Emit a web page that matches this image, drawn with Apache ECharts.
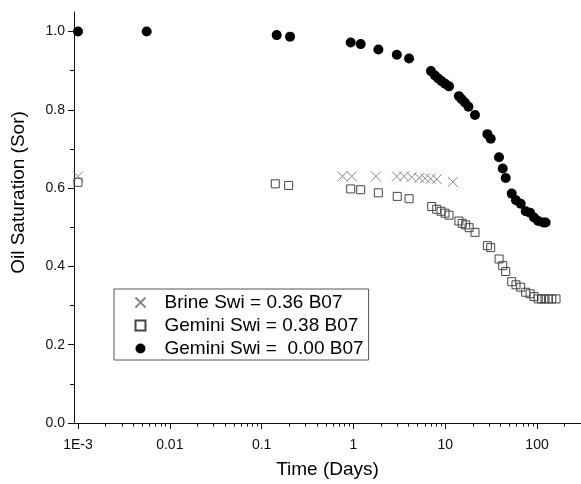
<!DOCTYPE html>
<html><head><meta charset="utf-8">
<script src="https://cdn.jsdelivr.net/npm/echarts@6/dist/echarts.min.js"></script>
<style>html,body{margin:0;padding:0;background:#fff}#c{width:581px;height:484px}</style>
</head><body><div id="c"></div>
<script>
// ---- data ----
const brineTime = [0.001, 0.76, 0.96, 1.76, 2.97, 3.56, 4.31, 5.22, 6.02, 6.95, 8.08, 12.1];
const brineSor  = [0.630, 0.630, 0.630, 0.630, 0.630, 0.630, 0.628, 0.626, 0.625, 0.624, 0.623, 0.616];

const gem38Time = [0.001, 0.141, 0.197, 0.935, 1.2, 1.87, 3.0, 4.04, 7.13, 8.08, 9.0, 9.95, 11.0,
  14.1, 15.3, 16.7, 18.2, 21.1, 28.8, 31.3, 38.6, 42.3, 45.6, 53, 59, 66.4, 75.3, 84, 92.7,
  103, 112, 122, 133, 145, 161];
const gem38Sor  = [0.615, 0.611, 0.607, 0.598, 0.596, 0.588, 0.579, 0.573, 0.553, 0.546, 0.541, 0.536, 0.531,
  0.516, 0.510, 0.506, 0.499, 0.487, 0.453, 0.448, 0.419, 0.402, 0.387, 0.361, 0.353, 0.347, 0.334, 0.330, 0.323,
  0.317, 0.317, 0.317, 0.317, 0.317, 0.317];

const gem00Time = [0.001, 0.0056, 0.146, 0.204, 0.934, 1.2, 1.87, 2.97, 4.04, 7.0, 7.74, 8.41, 9.16, 9.96, 11.0,
  14.1, 15.1, 16.4, 17.9, 21.1, 28.8, 31.3, 38.5, 42.3, 45.6, 53, 59, 66.4, 75.3, 84, 92.7, 103, 117, 124];
const gem00Sor  = [1.0, 1.0, 0.991, 0.987, 0.972, 0.968, 0.954, 0.941, 0.931, 0.899, 0.888, 0.880, 0.873, 0.867, 0.860,
  0.835, 0.827, 0.819, 0.808, 0.787, 0.738, 0.726, 0.679, 0.650, 0.626, 0.586, 0.569, 0.560, 0.541, 0.537, 0.525, 0.516, 0.512, 0.512];

const seriesNames = ['Brine Swi = 0.36 B07', 'Gemini Swi = 0.38 B07', 'Gemini Swi =  0.00 B07'];
const xMajorTicks = [0.001, 0.01, 0.1, 1, 10, 100];
const xMinorTicks = [];
[0.001, 0.01, 0.1, 1, 10, 100].forEach(d => { for (let k = 2; k <= 9; k++) { const v = +(d * k).toPrecision(3); if (v <= 300) xMinorTicks.push(v); } });
const yMajorTicks = [0, 0.2, 0.4, 0.6, 0.8, 1.0];
const yMinorTicks = [0.1, 0.3, 0.5, 0.7, 0.9];
const xTitle = 'Time (Days)';
const yTitle = 'Oil Saturation (Sor)';

const FONT = 'Liberation Sans, Arial, sans-serif';
const XMIN = Math.pow(10, -3.0436), XMAX = Math.pow(10, 2.479);
const pair = (xs, ys) => xs.map((x, i) => [x, ys[i]]);
const xLabel = v => { if (Math.abs(v - 0.001) < 1e-9) return '1E-3'; return String(+v.toPrecision(3)); };

const chart = echarts.init(document.getElementById('c'), null, { renderer: 'canvas' });
chart.setOption({
  backgroundColor: '#fff',
  animation: false,
  grid: { left: 74, right: 0, top: 12, bottom: 59, containLabel: false },
  xAxis: [
    { type: 'log', logBase: 10, min: XMIN, max: XMAX, position: 'bottom',
      name: xTitle, nameLocation: 'middle', nameGap: 37,
      nameTextStyle: { fontFamily: FONT, fontSize: 19, color: '#000' },
      axisLine: { show: true, lineStyle: { color: '#111', width: 1 } },
      axisTick: { show: true, length: 6, customValues: xMajorTicks, lineStyle: { color: '#111' } },
      axisLabel: { show: true, customValues: xMajorTicks, formatter: xLabel, margin: 15,
        fontFamily: FONT, fontSize: 14, color: '#111' },
      splitLine: { show: false } },
    { type: 'log', logBase: 10, min: XMIN, max: XMAX, position: 'bottom',
      axisLine: { show: false },
      axisTick: { show: true, length: 3.5, customValues: xMinorTicks, lineStyle: { color: '#111' } },
      axisLabel: { show: false }, splitLine: { show: false } }
  ],
  yAxis: [
    { type: 'value', min: 0, max: 1.05, position: 'left',
      name: yTitle, nameLocation: 'middle', nameGap: 46, nameRotate: 90,
      nameTextStyle: { fontFamily: FONT, fontSize: 19, color: '#000', padding: [0, 0, 0, 50] },
      axisLine: { show: true, lineStyle: { color: '#111', width: 1 } },
      axisTick: { show: true, length: 6, customValues: yMajorTicks, lineStyle: { color: '#111' } },
      axisLabel: { show: true, customValues: yMajorTicks, formatter: v => v.toFixed(1), margin: 9,
        fontFamily: FONT, fontSize: 14, color: '#111' },
      splitLine: { show: false } },
    { type: 'value', min: 0, max: 1.05, position: 'left',
      axisLine: { show: false },
      axisTick: { show: true, length: 4, customValues: yMinorTicks, lineStyle: { color: '#111' } },
      axisLabel: { show: false }, splitLine: { show: false } }
  ],
  legend: {
    orient: 'vertical', left: 114, top: 289,
    padding: [4, 5, 2, 19], itemGap: 4, itemWidth: 10, itemHeight: 10,
    borderColor: '#555', borderWidth: 1, backgroundColor: '#fff',
    textStyle: { fontFamily: FONT, fontSize: 19, lineHeight: 19, color: '#000', padding: [0, 0, 0, 14] },
    data: seriesNames
  },
  series: [
    { name: seriesNames[0], type: 'scatter', xAxisIndex: 0, yAxisIndex: 0,
      symbol: 'path://M0,0L10,10M0,10L10,0', symbolSize: 10,
      itemStyle: { color: 'none', borderColor: '#888', borderWidth: 1, opacity: 1 },
      data: pair(brineTime, brineSor), z: 3 },
    { name: seriesNames[1], type: 'scatter', xAxisIndex: 0, yAxisIndex: 0,
      symbol: 'rect', symbolSize: 8,
      itemStyle: { color: 'rgba(255,255,255,0)', borderColor: '#444', borderWidth: 1, opacity: 1 },
      data: pair(gem38Time, gem38Sor), z: 3 },
    { name: seriesNames[2], type: 'scatter', xAxisIndex: 0, yAxisIndex: 0,
      symbol: 'circle', symbolSize: 10,
      itemStyle: { color: '#000', opacity: 1 },
      data: pair(gem00Time, gem00Sor), z: 4 }
  ]
});
</script></body></html>
